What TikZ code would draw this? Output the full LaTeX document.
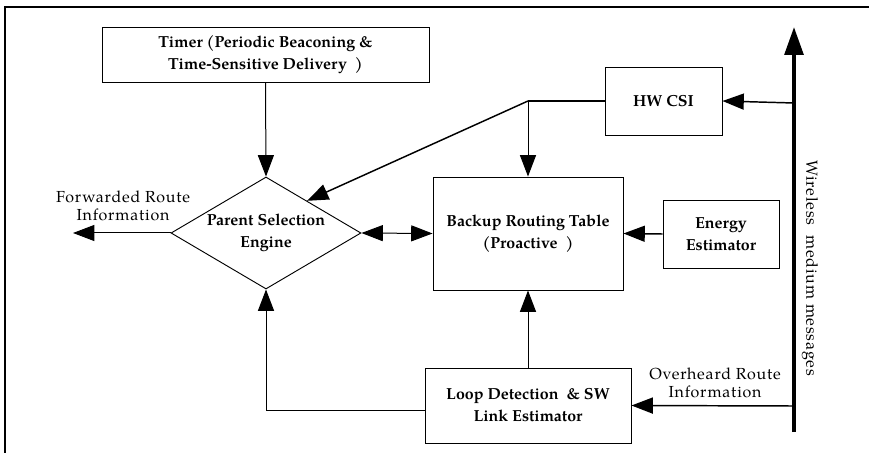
\documentclass[tikz,border=0pt]{standalone}
\usepackage{fontspec}
\setmainfont{TeX Gyre Pagella}
\newfontfamily\spacedfont[LetterSpace=5]{TeX Gyre Pagella}
\usetikzlibrary{arrows.meta,calc,shapes.geometric}

\begin{document}
\begin{tikzpicture}[x=0.75pt,y=-0.75pt,
  every node/.style={inner sep=0pt},
  blk/.style={draw,line width=0.7pt,align=center,
    font=\bfseries\fontsize{12}{16.5}\selectfont},
  lbl/.style={align=center,font=\spacedfont\fontsize{12}{14}\selectfont},
  conn/.style={line width=0.75pt,-{Triangle[length=16pt,width=12pt]}},
  plain/.style={line width=0.75pt},
  frameline/.style={line width=2pt}
]
\useasboundingbox (0,0) rectangle (869,453);

% page frame (left and top edges)
\draw[frameline] (5,453) -- (5,7) -- (869,7);

% blocks
\node[blk,minimum width=245.25pt,minimum height=41.25pt] (timer) at (265.5,54.5)
  {Timer (Periodic Beaconing \&\\ Time-Sensitive Delivery\ \ )};
\node[draw,line width=0.7pt,diamond,minimum width=142.5pt,minimum height=84pt,
  label={[align=center,font=\bfseries\fontsize{12}{16.5}\selectfont]center:Parent Selection\\Engine}]
  (engine) at (266,233) {};
\node[blk,minimum width=87.75pt,minimum height=51pt] (hwcsi) at (663.5,101) {HW CSI};
\node[blk,minimum width=142.5pt,minimum height=84.75pt] (backup) at (528,233.5)
  {Backup Routing Table\\(Proactive\ \ )};
\node[blk,minimum width=87pt,minimum height=51pt] (energy) at (721,234) {Energy\\Estimator};
\node[blk,minimum width=154.5pt,minimum height=56.25pt] (loop) at (528,405.5)
  {Loop Detection\ \ \& SW\\Link Estimator};

% wireless medium bus
\coordinate (wbot) at (794,432);
\coordinate (wtop) at (794,27);
\coordinate (wcsi) at (794,103);
\coordinate (wover) at (794,406);
\draw[line width=3pt,-{Triangle[length=21pt,width=14pt]}] (wbot) -- (wtop);
\node[lbl,rotate=-90] (wlabel) at (810,268) {Wireless\hspace{0.6em}medium messages};

% connectors
\coordinate (fwd) at (73,233);
\coordinate (split) at (528,101);
\coordinate (enghit) at ($(engine.north)!0.43!(engine.east)$);
\coordinate (loopturn) at (266,410);
\coordinate (loopout) at (loop.west |- loopturn);

\draw[conn] (timer.south) -- (engine.north);
\draw[conn] (engine.west) -- (fwd);
\draw[conn,{Triangle[length=16pt,width=12pt]}-{Triangle[length=16pt,width=12pt]}] (engine.east) -- (backup.west);
\draw[plain,line width=1.1pt] (hwcsi.west) -- (split);
\draw[conn,line width=1.1pt] (split) -- (enghit);
\draw[conn] (split) -- (backup.north);
\draw[conn,line width=1.1pt] (wcsi) -- (hwcsi.east);
\draw[conn,line width=1.1pt] (energy.west) -- (backup.east);
\draw[conn] (loop.north) -- (backup.south);
\draw[conn] (loopout) -- (loopturn) -- (engine.south);
\draw[conn,line width=1.1pt] (wover) -- (loop.east);

% edge labels
\node[lbl] (fwdlabel) at (123,206) {Forwarded Route\\Information};
\node[lbl] (overlabel) at (715,383) {Overheard Route\\Information};
\end{tikzpicture}
\end{document}
